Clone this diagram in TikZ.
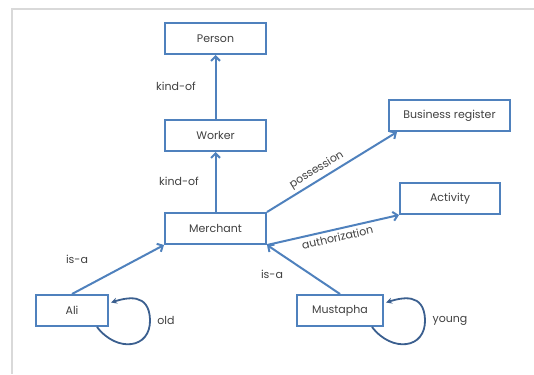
\documentclass[tikz,border=0pt]{standalone}
\usepackage{fontspec}
\setmainfont{Poppins}
\usetikzlibrary{arrows.meta,calc,positioning}
\definecolor{boxblue}{HTML}{4F81BD}
\definecolor{loopblue}{HTML}{3B5F8F}
\definecolor{textgray}{HTML}{404040}
\definecolor{framegray}{HTML}{D9D9D9}

\begin{document}
\begin{tikzpicture}[x=1pt,y=-1pt,>={Straight Barb[length=4.5pt,width=9pt]},
  concept/.style={draw=boxblue,line width=2pt,fill=white,text=textgray,minimum height=31pt,inner sep=0pt,font=\fontsize{11}{13}\selectfont},
  rel/.style={->,boxblue,line width=2pt},
  selfrel/.style={-{Stealth[length=6pt,width=6pt]},loopblue,line width=1.8pt},
  lbl/.style={text=textgray,font=\fontsize{11}{13}\selectfont,inner sep=1pt}]
  \useasboundingbox (0,0) rectangle (534,374);
  \draw[framegray,line width=2pt] (534,9) -- (12,9) -- (12,374);
  \node[concept,minimum width=101pt] (person) at (215.5,38.5) {Person};
  \node[concept,minimum width=101pt] (worker) at (215.5,135.5) {Worker};
  \node[concept,minimum width=101pt] (merchant) at (215.5,228.5) {Merchant};
  \node[concept,minimum width=121pt] (busreg) at (449.5,115.5) {Business register};
  \node[concept,minimum width=100pt] (activity) at (450,198.5) {Activity};
  \node[concept,minimum width=72pt] (ali) at (72,310.5) {Ali};
  \node[concept,minimum width=86pt] (mustapha) at (340,310.5) {Mustapha};
  \draw[rel] (worker.north) -- (person.south);
  \draw[rel] (merchant.north) -- (worker.south);
  \draw[rel] (merchant.north east) -- node[lbl,sloped,above=2pt,pos=0.42] (possession) {possession} ([xshift=9pt]busreg.south west);
  \draw[rel] (merchant.south east) -- node[lbl,sloped,below=2pt,pos=0.52] (authorization) {authorization} (activity.south west);
  \draw[rel] (ali.north) -- (merchant.south west);
  \draw[rel] (mustapha.north) -- (merchant.south east);
  \draw[selfrel] ([xshift=-12pt]ali.south east) .. controls ($(ali.south east)+(8,26)$) and ($(ali.south east)+(42,22)$) .. ($(ali.east)+(41,9)$)
    .. controls ($(ali.east)+(40,-18)$) and ($(ali.east)+(18,-13)$) .. ($(ali.east)+(2,-8)$);
  \draw[selfrel] ([xshift=-12pt]mustapha.south east) .. controls ($(mustapha.south east)+(8,26)$) and ($(mustapha.south east)+(42,22)$) .. ($(mustapha.east)+(41,9)$)
    .. controls ($(mustapha.east)+(40,-18)$) and ($(mustapha.east)+(18,-13)$) .. ($(mustapha.east)+(2,-8)$);
  \node[lbl] (kindof1) at (176,86) {kind-of};
  \node[lbl] (kindof2) at (179,181) {kind-of};
  \node[lbl] (isa1) at (77,259) {is-a};
  \node[lbl] (isa2) at (272,274) {is-a};
  \node[lbl] (old) at (166,320) {old};
  \node[lbl] (young) at (450,321) {young};
\end{tikzpicture}
\end{document}
